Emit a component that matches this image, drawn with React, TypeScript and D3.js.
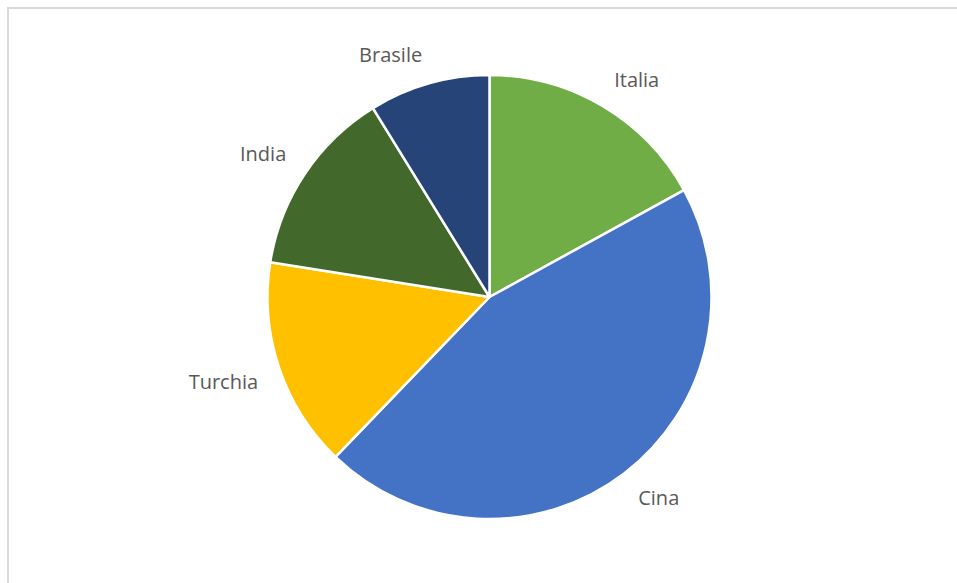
import React, { useEffect, useRef } from "react";
import * as d3 from "d3";

const categories = ["Italia", "Cina", "Turchia", "India", "Brasile"];
const values = [17.0, 45.2, 15.3, 13.7, 8.8];
const colors = ["#70AD47", "#4472C4", "#FFC000", "#43682B", "#264478"];

const W = 957;
const H = 583;
const CX = 489.5;
const CY = 297;
const R = 222;

export default function App() {
  const ref = useRef<SVGSVGElement>(null);

  useEffect(() => {
    document.body.style.margin = "0";
    const svg = d3.select(ref.current);
    svg.selectAll("*").remove();

    svg.append("rect").attr("x", 0).attr("y", 0).attr("width", W).attr("height", H).attr("fill", "#fff");
    svg
      .append("rect")
      .attr("x", 8)
      .attr("y", 8)
      .attr("width", 1200)
      .attr("height", 1200)
      .attr("fill", "none")
      .attr("stroke", "#d9d9d9")
      .attr("stroke-width", 2);

    const data = categories.map((c, i) => ({ name: c, value: values[i], color: colors[i] }));
    const pie = d3
      .pie<any>()
      .value((d) => d.value)
      .sort(null)
      .startAngle(0)
      .endAngle(2 * Math.PI);
    const arcs = pie(data);
    const arc = d3.arc<any>().innerRadius(0).outerRadius(R);

    const g = svg.append("g").attr("transform", `translate(${CX},${CY})`);
    g.selectAll("path")
      .data(arcs)
      .enter()
      .append("path")
      .attr("d", arc as any)
      .attr("fill", (d: any) => d.data.color)
      .attr("stroke", "#fff")
      .attr("stroke-width", 2.5)
      .attr("stroke-linejoin", "round");

    // label box: its nearest corner sits on a circle just outside the pie, at the slice mid-angle
    const cornerR = R + 21;
    const boxH = 16;
    const capH = 14;
    arcs.forEach((a: any) => {
      const t = g
        .append("text")
        .text(a.data.name)
        .attr("font-family", "'Open Sans', sans-serif")
        .attr("font-size", 20)
        .attr("fill", "#595959")
        .attr("text-anchor", "middle");
      const w = (t.node() as SVGTextElement).getComputedTextLength() + 2;
      const th = (a.startAngle + a.endAngle) / 2;
      const s = Math.sin(th);
      const c = Math.cos(th);
      const px = cornerR * s;
      const py = -cornerR * c;
      const cx = px + Math.sign(s) * (w / 2);
      const cy = py - Math.sign(c) * (boxH / 2);
      t.attr("x", cx).attr("y", cy + capH / 2);
    });
  }, []);

  return <svg ref={ref} width={W} height={H} style={{ display: "block" }} />;
}
